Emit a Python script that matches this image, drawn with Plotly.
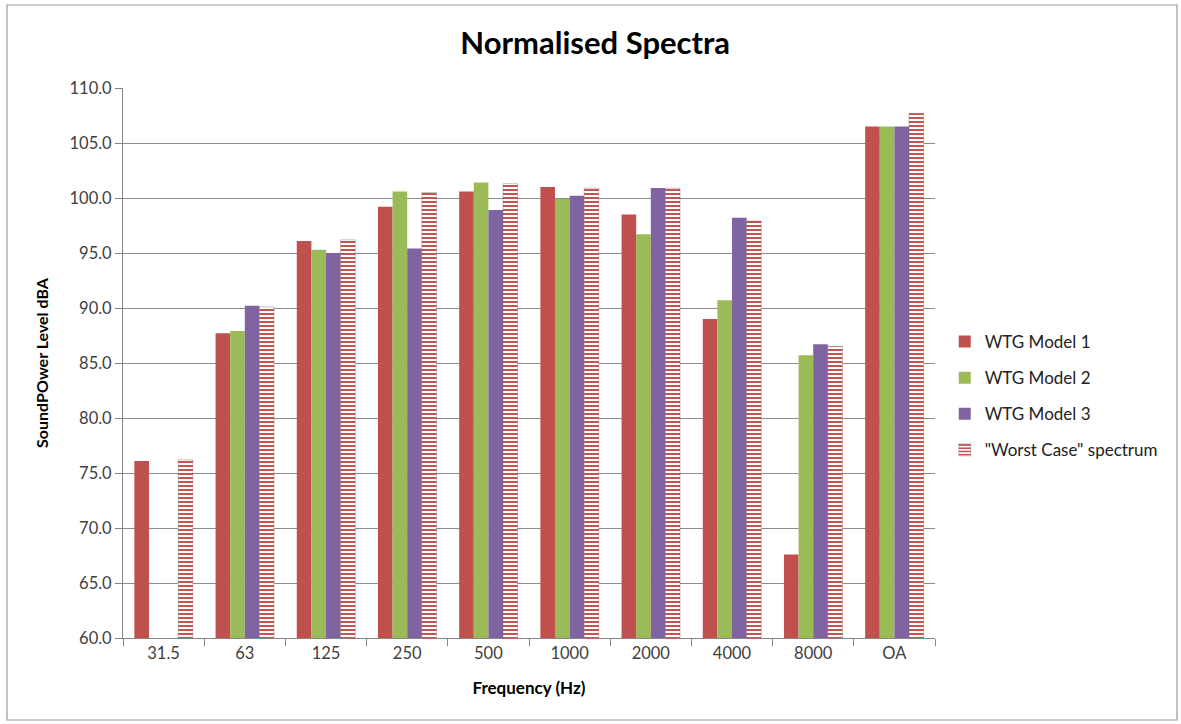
import plotly.graph_objects as go

# Octave-band centre frequencies plus overall level
bands = ["31.5", "63", "125", "250", "500", "1000", "2000", "4000", "8000", "OA"]

# Normalised sound power levels, dBA
wtg_model_1 = [76.1, 87.7, 96.1, 99.2, 100.6, 101.0, 98.5, 89.0, 67.6, 106.5]
wtg_model_2 = [None, 87.9, 95.3, 100.6, 101.4, 99.9, 96.7, 90.7, 85.7, 106.5]
wtg_model_3 = [None, 90.2, 95.0, 95.4, 98.9, 100.2, 100.9, 98.2, 86.7, 106.5]
worst_case = [76.2, 90.1, 96.2, 100.5, 101.3, 100.9, 100.9, 97.9, 86.5, 107.7]

FONT = "Lato, 'Open Sans', sans-serif"
RED, GREEN, PURPLE = "#C0504D", "#9BBB59", "#8064A2"

fig = go.Figure()
for name, vals, col in [("WTG Model 1", wtg_model_1, RED),
                        ("WTG Model 2", wtg_model_2, GREEN),
                        ("WTG Model 3", wtg_model_3, PURPLE)]:
    fig.add_trace(go.Bar(x=bands, y=vals, name=name, legendgroup=name,
                         marker=dict(color=col, line=dict(width=0))))

fig.add_trace(go.Bar(
    x=bands, y=worst_case, name='"Worst Case" spectrum', legendgroup="worst",
    marker=dict(color="white",
                line=dict(width=0.7, color="rgba(110,80,80,0.5)"),
                pattern=dict(shape="-", fgcolor="#BE403E", bgcolor="white",
                             fgopacity=1, size=4, solidity=0.45)),
))

fig.update_layout(
    width=1181, height=724,
    paper_bgcolor="white", plot_bgcolor="white",
    margin=dict(l=123, r=246, t=88, b=86),
    barmode="group", bargap=0.28, bargroupgap=0,
    font=dict(family=FONT, size=16, color="#404040"),
    title=dict(text="<b>Normalised Spectra</b>", x=0.504, xanchor="center",
               y=0.94, yanchor="middle",
               font=dict(family=FONT, size=31, color="#000000")),
    legend=dict(x=1.012, xanchor="left", y=0.44, yanchor="middle",
                traceorder="grouped", tracegroupgap=11,
                font=dict(family=FONT, size=17, color="#222222"),
                itemwidth=30, bgcolor="rgba(0,0,0,0)"),
    showlegend=True,
)

fig.update_xaxes(
    type="category", showline=True, linecolor="#868686", linewidth=1,
    ticks="outside", tickson="boundaries", ticklen=7, tickcolor="#868686",
    showgrid=False, tickfont=dict(size=16.5, color="#404040"),
    title=dict(text="<b>Frequency (Hz)</b>", standoff=20,
               font=dict(size=17, color="#000000")),
)
fig.update_yaxes(
    range=[60, 110], dtick=5, tick0=60, tickformat=".1f",
    showline=True, linecolor="#868686", linewidth=1,
    ticks="outside", ticklen=7, tickcolor="#868686",
    showgrid=True, gridcolor="#8C8C8C", gridwidth=1,
    tickfont=dict(size=16.5, color="#404040"),
    title=dict(text="<b>SoundPOwer Level dBA</b>", standoff=16,
               font=dict(size=16, color="#000000")),
    zeroline=False,
)

# Outer chart border
fig.add_shape(type="rect", xref="paper", yref="paper",
              x0=(7 - 123) / 812, x1=(1177 - 123) / 812,
              y0=(638 - 720) / 550, y1=(638 - 5) / 550,
              line=dict(color="#9A9A9A", width=1.2), layer="below")

fig.write_html("out.html")
